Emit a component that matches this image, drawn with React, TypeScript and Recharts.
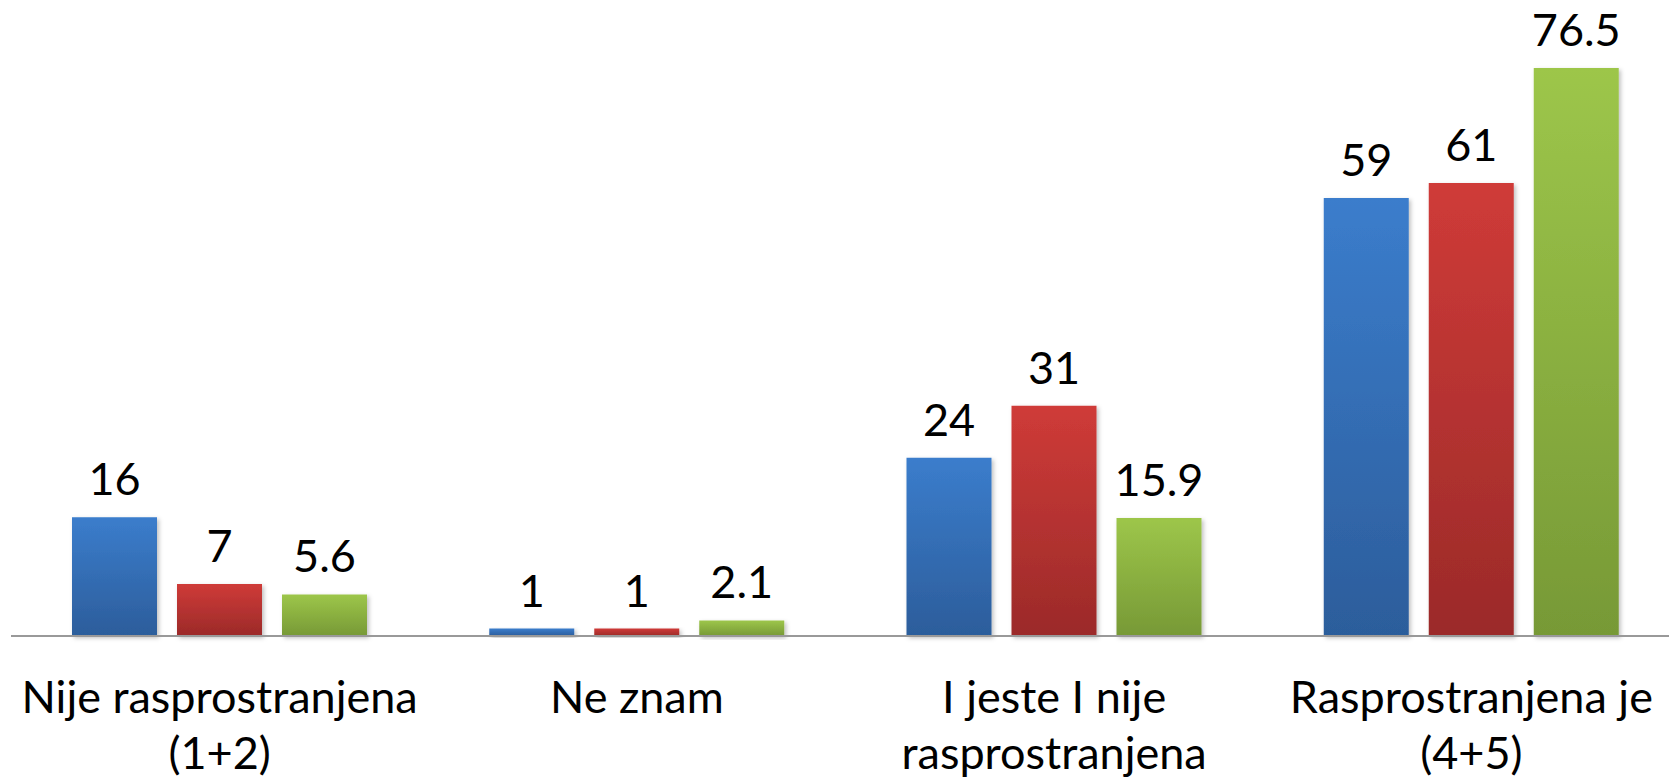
import React from "react";
import { BarChart, Bar, XAxis, YAxis, LabelList } from "recharts";

// survey answer groups, line breaks as in the original slide
const categories = [
  "Nije rasprostranjena\n(1+2)",
  "Ne znam",
  "I jeste I nije\nrasprostranjena",
  "Rasprostranjena je\n(4+5)",
];
const blueValues = [16, 1, 24, 59];
const redValues = [7, 1, 31, 61];
const greenValues = [5.6, 2.1, 15.9, 76.5];

const data = categories.map((name, i) => ({
  name,
  blue: blueValues[i],
  red: redValues[i],
  green: greenValues[i],
}));

const FONT = "Lato, 'Open Sans', sans-serif";

function CategoryTick({ x, y, payload }: any) {
  const lines = String(payload.value).split("\n");
  return (
    <text x={x} y={y + 77} textAnchor="middle" fill="#000" fontSize={45} fontFamily={FONT}>
      {lines.map((line, i) => (
        <tspan key={i} x={x} dy={i === 0 ? 0 : 56}>
          {line}
        </tspan>
      ))}
    </text>
  );
}

export default function App() {
  return (
    <div style={{ position: "fixed", left: 0, top: 0, width: 1669, height: 779, overflow: "hidden", background: "#fff" }}>
      <BarChart
        width={1690}
        height={779}
        data={data}
        margin={{ top: 42, right: 10, bottom: 0, left: 11 }}
        barSize={85}
        barGap={20}
      >
        <defs>
          <linearGradient id="gBlue" x1="0" y1="0" x2="0" y2="1">
            <stop offset="0%" stopColor="#3b7dcc" />
            <stop offset="100%" stopColor="#2c5d9b" />
          </linearGradient>
          <linearGradient id="gRed" x1="0" y1="0" x2="0" y2="1">
            <stop offset="0%" stopColor="#cf3b38" />
            <stop offset="100%" stopColor="#9b2a29" />
          </linearGradient>
          <linearGradient id="gGreen" x1="0" y1="0" x2="0" y2="1">
            <stop offset="0%" stopColor="#9dc64a" />
            <stop offset="100%" stopColor="#779936" />
          </linearGradient>
          <filter id="barShadow" x="-10%" y="-10%" width="130%" height="130%">
            <feDropShadow dx="2" dy="2" stdDeviation="2" floodColor="#000" floodOpacity="0.25" />
          </filter>
        </defs>
        <XAxis
          dataKey="name"
          height={143}
          axisLine={{ stroke: "#999", strokeWidth: 2 }}
          tickLine={false}
          tickSize={0}
          tickMargin={0}
          interval={0}
          tick={<CategoryTick />}
        />
        <YAxis hide domain={[0, 80]} />
        <Bar dataKey="blue" fill="url(#gBlue)" filter="url(#barShadow)" isAnimationActive={false}>
          <LabelList dataKey="blue" position="top" offset={22} fill="#000" fontSize={45} fontFamily={FONT} />
        </Bar>
        <Bar dataKey="red" fill="url(#gRed)" filter="url(#barShadow)" isAnimationActive={false}>
          <LabelList dataKey="red" position="top" offset={22} fill="#000" fontSize={45} fontFamily={FONT} />
        </Bar>
        <Bar dataKey="green" fill="url(#gGreen)" filter="url(#barShadow)" isAnimationActive={false}>
          <LabelList dataKey="green" position="top" offset={22} fill="#000" fontSize={45} fontFamily={FONT} />
        </Bar>
      </BarChart>
    </div>
  );
}
